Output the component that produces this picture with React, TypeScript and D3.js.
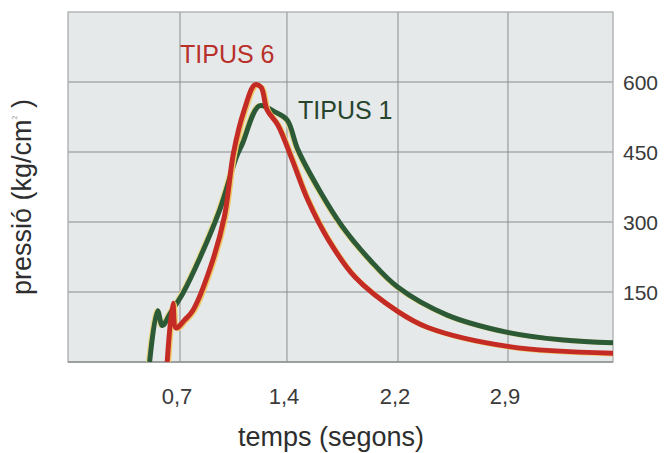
import React from "react";
import * as d3 from "d3";

// ---- data ----
const TIME_T1 = [0.51, 0.56, 0.59, 0.64, 0.72, 0.83, 0.96, 1.07, 1.11, 1.22, 1.32, 1.4, 1.48, 1.64, 1.8, 2.0, 2.2, 2.51, 2.89, 3.27, 3.6];
const PRESS_T1 = [0, 110, 78, 105, 148, 223, 326, 440, 469, 549, 536, 519, 454, 365, 290, 218, 160, 101, 64, 47, 41];

const TIME_T6 = [0.62, 0.655, 0.675, 0.73, 0.785, 0.9, 0.99, 1.05, 1.12, 1.19, 1.23, 1.27, 1.34, 1.43, 1.55, 1.7, 1.89, 2.2, 2.39, 2.91, 3.6];
const PRESS_T6 = [0, 126, 73, 90, 111, 204, 311, 448, 540, 594, 589, 540, 508, 439, 347, 261, 182, 108, 74, 33, 19];

const X_TICKS = [0.7, 1.4, 2.2, 2.9];
const X_TICK_LABELS = ["0,7", "1,4", "2,2", "2,9"];
const X_DOMAIN = [0, 0.7, 1.4, 2.2, 2.9, 3.6];
const Y_TICKS = [150, 300, 450, 600];
const Y_MAX = 750;

const SERIES = [
  { name: "TIPUS 1", time: TIME_T1, press: PRESS_T1, color: "#2c5a36" },
  { name: "TIPUS 6", time: TIME_T6, press: PRESS_T6, color: "#c42b24" },
];

// ---- layout ----
const W = 671;
const H = 453;
const left = 68;
const right = 613;
const top = 12;
const bottom = 362;
const pw = right - left;
const X_FRAC = [0, 0.2055, 0.4018, 0.6055, 0.8073, 1];

const FONT = "'Liberation Sans', Arial, Helvetica, sans-serif";

export default function App() {
  const x = d3.scaleLinear().domain(X_DOMAIN).range(X_FRAC.map((f) => left + f * pw));
  const y = d3.scaleLinear().domain([0, Y_MAX]).range([bottom, top]);

  const line = d3
    .line<[number, number]>()
    .x((d) => x(d[0]))
    .y((d) => y(d[1]))
    .curve(d3.curveCatmullRom.alpha(0.5));

  const paths = SERIES.map((s) => ({
    ...s,
    d: line(s.time.map((t, i) => [t, s.press[i]] as [number, number])) || "",
  }));
  const green = paths[0];
  const red = paths[1];

  return (
    <svg
      width={W}
      height={H}
      style={{ position: "absolute", left: 0, top: 0, background: "#fff" }}
      fontFamily={FONT}
    >
      <defs>
        <clipPath id="plotclip">
          <rect x={left} y={top} width={pw} height={bottom - top} />
        </clipPath>
      </defs>
      <rect x={left} y={top} width={pw} height={bottom - top} fill="#e6e9ea" />
      {/* grid */}
      {X_TICKS.map((t) => (
        <line key={"gx" + t} x1={x(t)} x2={x(t)} y1={top} y2={bottom} stroke="#8a8d8e" strokeWidth={1} />
      ))}
      {Y_TICKS.map((t) => (
        <line key={"gy" + t} x1={left} x2={right} y1={y(t)} y2={y(t)} stroke="#8a8d8e" strokeWidth={1} />
      ))}
      <rect x={left} y={top} width={pw} height={bottom - top} fill="none" stroke="#a3a6a7" strokeWidth={1.2} />
      <line x1={left} x2={right} y1={bottom} y2={bottom} stroke="#8f9293" strokeWidth={1.5} />

      {/* curves */}
      <g clipPath="url(#plotclip)">
        <path d={green.d} fill="none" stroke="#e9d98a" strokeWidth={5} strokeLinejoin="round" transform="translate(-1.2,0)" />
        <path d={green.d} fill="none" stroke={green.color} strokeWidth={5} strokeLinejoin="round" />
        <path d={red.d} fill="none" stroke="#efc86a" strokeWidth={5} strokeLinejoin="round" transform="translate(1.4,0.8)" />
        <path d={red.d} fill="none" stroke={red.color} strokeWidth={5} strokeLinejoin="round" />
      </g>

      {/* series labels */}
      <text x={180} y={63} fontSize={25} fill="#b8302a">{red.name}</text>
      <text x={298} y={119} fontSize={25} fill="#27452d">{green.name}</text>

      {/* y tick labels (right) */}
      {Y_TICKS.map((t) => (
        <text key={"yl" + t} x={623} y={y(t) + 8} fontSize={21} fill="#3a3a3a">
          {t}
        </text>
      ))}
      {/* x tick labels */}
      {X_TICKS.map((t, i) => (
        <text key={"xl" + t} x={x(t) - 3} y={404} fontSize={22} fill="#3a3a3a" textAnchor="middle">
          {X_TICK_LABELS[i]}
        </text>
      ))}

      {/* axis titles */}
      <text x={331} y={446} fontSize={27} fill="#2e2e2e" textAnchor="middle">
        temps (segons)
      </text>
      <text
        transform="translate(31,197) rotate(-90)"
        fontSize={27}
        fill="#2e2e2e"
        textAnchor="middle"
      >
        pressió (kg/cm
        <tspan fontSize={7} dy={-14} fill="#999">2</tspan>
        <tspan dy={14}> )</tspan>
      </text>
    </svg>
  );
}
